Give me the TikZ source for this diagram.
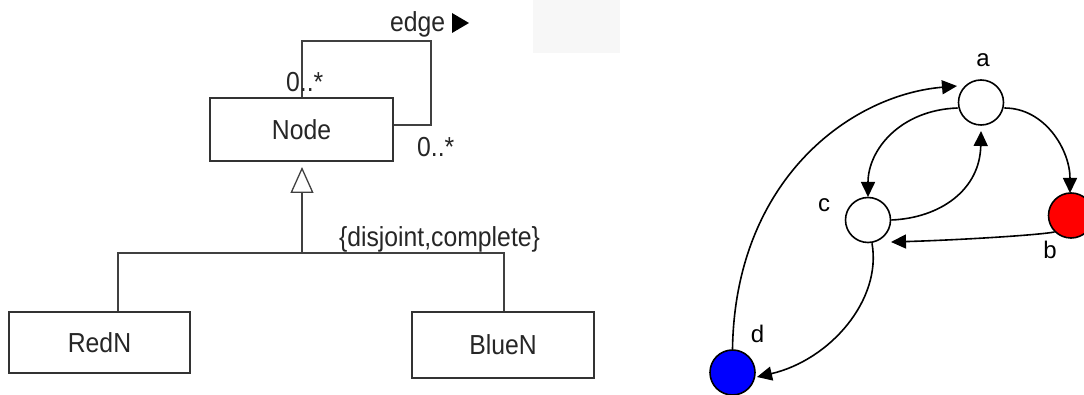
\documentclass[tikz,border=0pt]{standalone}
\usepackage{fontspec}
\setmainfont{Liberation Sans}
\newfontfamily\umlfont{Liberation Sans}[FakeStretch=0.9]
\usetikzlibrary{arrows.meta}
\begin{document}
\begin{tikzpicture}[x=1pt,y=-1pt,
  txt/.style={font={\umlfont\fontsize{27.5}{32}\selectfont}, text=black!85, inner sep=0pt},
  gtxt/.style={font={\fontsize{24}{28}\selectfont}, text=black, inner sep=0pt},
  umlbox/.style={draw=black!80, line width=1.3pt, fill=white, txt},
  umlline/.style={draw=black!75, line width=1.3pt},
  vertex/.style={circle, draw=black, line width=1.6pt, minimum size=45pt, inner sep=0pt},
  edgearrow/.style={line width=1.6pt, -{Triangle[length=15pt,width=14pt]}}
]
\useasboundingbox (0,0) rectangle (1084,395);
\clip (0,0) rectangle (1084,395);

% faint panel in the upper middle
\fill[black!3] (533,0) rectangle (620,53);

% ---- class diagram ----
\node[umlbox, minimum width=183pt, minimum height=63pt] (node) at (301.5,129.5) {Node};
\node[umlbox, minimum width=181pt, minimum height=61pt] (redn) at (99.5,342.5) {RedN};
\node[umlbox, minimum width=182pt, minimum height=66pt] (bluen) at (503,345) {BlueN};

% self association "edge"
\coordinate (loopL) at (302,41);
\coordinate (loopR) at (431,41);
\draw[umlline] ([xshift=0.5pt]node.north) -- (loopL) -- (loopR) |- ([yshift=4.5pt]node.east);
\node[txt, anchor=base west] (edgelbl) at (390,32) {edge};
\fill[black] (452,13) -- (469,23) -- (452,33) -- cycle;
\node[txt, anchor=base west] (multA) at (286,92) {0..*};
\node[txt, anchor=base west] (multB) at (417,157) {0..*};

% generalization
\coordinate (genTip) at (302,167);
\coordinate (junc) at (302,253);
\draw[umlline, -{Triangle[open, length=26pt, width=23pt, line width=1.3pt]}] (junc) -- (genTip);
\draw[umlline] ([xshift=18.5pt]redn.north) |- (junc) -| ([xshift=1pt]bluen.north);
\node[txt, anchor=base] (constraint) at (439.5,247) {\{disjoint,complete\}};

% ---- graph ----
\node[vertex, fill=white] (a) at (981,102.5) {};
\node[vertex, fill=white] (c) at (868,220) {};
\node[vertex, fill=red] (b) at (1071,215.5) {};
\node[vertex, fill=blue] (d) at (732.5,372.5) {};

\node[gtxt] (la) at (983,60) {a};
\node[gtxt] (lc) at (824,205) {c};
\node[gtxt] (lb) at (1050,250) {b};
\node[gtxt] (ld) at (757.5,334) {d};

\coordinate (aIn1) at (957,86);
\coordinate (cIn) at (868,197);
\coordinate (aIn2) at (981,131);
\coordinate (bIn) at (1070,193);
\coordinate (cIn2) at (891,242);
\coordinate (dIn) at (757,377);

\draw[edgearrow] (d.north) .. controls (735,180) and (850,95) .. (aIn1);
\draw[edgearrow] (a.west |- 0,108) .. controls (900,110) and (868,150) .. (cIn);
\draw[edgearrow] (c.east) .. controls (940,218) and (980,190) .. (aIn2);
\draw[edgearrow] (a.east |- 0,108) .. controls (1045,108) and (1070,150) .. (bIn);
\draw[edgearrow] (b.south west) .. controls (1040,235) and (960,240) .. (cIn2);
\draw[edgearrow] ([xshift=4pt]c.south) .. controls (882,300) and (830,360) .. (dIn);
\end{tikzpicture}
\end{document}
